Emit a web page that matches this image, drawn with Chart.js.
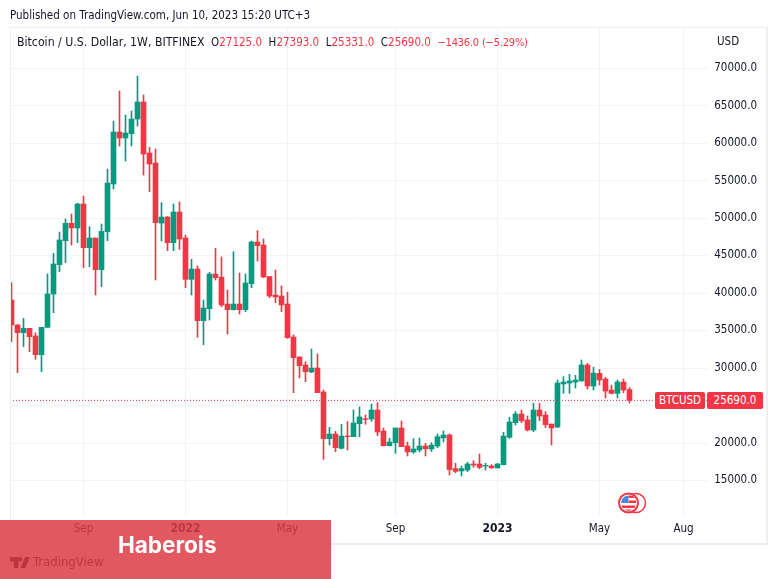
<!DOCTYPE html>
<html>
<head>
<meta charset="utf-8">
<script src="https://cdn.jsdelivr.net/npm/chart.js@4/dist/chart.umd.min.js"></script>
<style>
  html, body { margin: 0; background: #fff; }
  #wrap { position: relative; width: 777px; height: 579px; overflow: hidden; font-family: "DejaVu Sans Condensed", "DejaVu Sans", sans-serif; color: #131722; }
  canvas { position: absolute; left: 0; top: 0; }
  .txt { position: absolute; white-space: pre; font-size: 11.5px; line-height: 16px; }
  .red { color: #f23645; }
  #frame { position: absolute; left: 10px; top: 27px; width: 755px; height: 515px; border: 1px solid #eeeeee; border-width: 1px 2px 2px 1px; }
  .tag { position: absolute; top: 392px; height: 17px; line-height: 17px; background: #f23645; color: #fff; font-size: 11.5px; text-align: center; border-radius: 2px; }
  #banner { position: absolute; left: 0; top: 520px; width: 331px; height: 59px; background: rgba(221, 59, 68, 0.85); }
  #brand { position: absolute; left: 118px; top: 530px; color: #fff; font: 700 22.5px/30px Inter, sans-serif; }
</style>
</head>
<body>
<div id="wrap">
  <canvas id="chart" width="777" height="579"></canvas>
  <div id="frame"></div>
  <div class="txt" style="left:10px;top:7px">Published on TradingView.com, Jun 10, 2023 15:20 UTC+3</div>
  <div class="txt" style="left:17px;top:34px"><span style="font-size:12.2px">Bitcoin / U.S. Dollar, 1W, BITFINEX</span>  O<span class="red">27125.0</span>  H<span class="red">27393.0</span>  L<span class="red">25331.0</span>  C<span class="red">25690.0</span>  <span class="red" style="font-size:11px;letter-spacing:-0.2px">−1436.0 (−5.29%)</span></div>
  <div class="txt" style="left:717px;top:33px">USD</div>
  <div class="tag" style="left:655px;width:50px">BTCUSD</div>
  <div class="tag" style="left:707px;width:56px">25690.0</div>
  <svg style="position:absolute;left:617px;top:491px" width="31" height="24" viewBox="0 0 31 24">
    <circle cx="19" cy="12" r="9.500" fill="#fff" stroke="#f23645" stroke-width="1.500"/>
    <circle cx="11.500" cy="12" r="9.500" fill="#fff" stroke="#f23645" stroke-width="2"/>
    <path d="M4 12a7.500 7.500 0 0 1 7.500-7.500V12z" fill="#3f8fe0"/>
    <path d="M11.500 4.500h4l2.500 2.500h-6.500zM11.500 9.500h7.500v2.500h-7.500zM4.500 14.500h14l-1 2.500h-12zM7.500 18.500h8l-4 1.500z" fill="#f23645"/>
  </svg>
  <svg style="position:absolute;left:10px;top:557px" width="20" height="11" viewBox="0 0 36 20">
    <path d="M0 0h15v20H7V8H0zM22 4a4 4 0 1 1-8 0 4 4 0 0 1 8 0zM27 0h9l-8 20h-9z" fill="#131722"/>
  </svg>
  <div class="txt" style="left:33px;top:553px;font-size:13px;line-height:18px;color:#131722">TradingView</div>
  <div id="banner"></div>
  <div id="brand">Haberois</div>
</div>
<script>
const opens = [
  39070,35740,34710,35290,34270,31780,35420,39870,43780,46980,
  49290,48670,51870,46050,47330,43110,48180,54530,61470,60670,
  61250,63200,65470,58670,57330,49330,50130,46710,50800,47330,
  41820,43200,36310,37910,42530,42130,38530,37780,38530,37780,
  41240,46800,46400,42200,39730,39600,38530,34130,31470,30400,
  29470,30000,26800,20580,21200,19290,20930,20840,22580,23240,
  23200,24400,21600,19640,20040,22000,19600,18800,19070,19600,
  19200,19600,20670,21070,16580,16270,16400,17200,17200,16930,
  16930,16670,17110,20760,22710,23870,23070,21730,24400,23730,
  22530,22130,27870,28000,28130,28270,30400,27600,29290,28530,
  27070,26620,28130,27125
];
const closes = [
  35740,34710,35290,34180,31780,35420,39870,43870,47070,49290,
  48670,51870,46050,47330,43110,48220,54670,61470,60670,61330,
  63200,65470,58530,57200,49380,50130,46710,50800,47200,41820,
  43200,36310,38000,42530,42050,38400,37780,38530,37780,41330,
  46800,46310,42130,39600,39470,38400,34050,31380,30310,29510,
  30000,26710,20580,21200,19380,20930,20840,22670,23470,23150,
  24400,21470,19640,20130,22000,19510,18800,19200,19600,19240,
  19730,20840,21070,16450,16220,16580,17200,17070,16760,17020,
  16710,17200,20930,22800,23870,22980,21730,24400,23600,22450,
  22000,28000,28130,28270,28400,30400,27600,29330,28400,26930,
  26620,28130,27070,25690
];
const highs = [
  41380,35800,36620,35290,34710,35420,42540,45290,48130,49870,
  50530,51960,52930,48850,47330,49200,56530,62930,66930,63730,
  64270,68930,66400,59420,59200,52050,50200,51870,52130,47730,
  44490,43600,39070,42760,45960,44800,40400,45510,42670,42530,
  46930,48310,47200,42200,43070,40930,40090,34400,31510,30840,
  32530,31870,27070,22090,21560,22490,22850,24400,24800,23730,
  25200,25380,22000,20620,22000,22930,20130,20580,20670,19960,
  20040,21200,21600,21200,17290,16930,17420,17640,18530,17290,
  17110,17290,21420,23420,24180,24400,23600,25290,25290,24180,
  22530,28400,28840,29160,29020,31070,30620,30090,29820,28760,
  27730,28400,28530,27393
];
const lows = [
  33510,29380,32850,32180,31160,29520,35420,37380,42850,44050,
  46400,46710,43380,43520,39740,40850,46980,53870,59600,57600,
  59600,62270,55730,53510,41730,46930,45640,45640,45820,40710,
  39730,34090,33110,36400,41730,38180,34530,37730,37200,37510,
  40710,44270,42050,39380,38710,37510,33960,26710,28670,28180,
  29380,26710,17820,19730,18850,19200,19070,20840,20840,22490,
  22890,20980,19600,19600,18620,19510,18270,18620,18800,18270,
  18850,19380,20130,15730,16050,15600,16180,16760,16580,16400,
  16580,16670,17070,20620,22400,22710,21600,21510,22980,22050,
  19730,22050,26620,26620,27330,28270,27200,27070,27730,26000,
  26530,26000,26710,25331
];
const xTickWeeks = [12, 29, 46, 64, 81, 98, 112];
const xTickNames = ['Sep', '2022', 'May', 'Sep', '2023', 'May', 'Aug'];
const yTicks = [70000, 65000, 60000, 55000, 50000, 45000, 40000, 35000, 30000, 25000, 20000, 15000];

const UP = '#089981', DOWN = '#f23645', GRID = '#f2f3f5';
const FONT = '"DejaVu Sans Condensed", "DejaVu Sans"';
const xMin = -0.25, xMax = 115.92;

const colors = opens.map((o, i) => (closes[i] >= o ? UP : DOWN));
const last = closes[closes.length - 1];

new Chart(document.getElementById('chart'), {
  type: 'bar',
  data: {
    datasets: [
      {
        data: opens.map((o, i) => ({ x: i, y: [lows[i], highs[i]] })),
        backgroundColor: colors, barThickness: 1, grouped: false, order: 2
      },
      {
        data: opens.map((o, i) => ({ x: i, y: [o, closes[i]] })),
        backgroundColor: colors, barThickness: 5, grouped: false, order: 1
      },
      {
        type: 'line',
        data: [{ x: xMin, y: last }, { x: xMax, y: last }],
        borderColor: DOWN, borderWidth: 1, borderDash: [1, 2], pointRadius: 0, order: 0
      }
    ]
  },
  options: {
    responsive: false,
    animation: false,
    layout: { padding: { left: 10, top: 27, right: 20, bottom: 36 } },
    plugins: { legend: { display: false }, tooltip: { enabled: false } },
    scales: {
      x: {
        type: 'linear',
        offset: false,
        min: xMin,
        max: xMax,
        grid: { color: GRID, offset: false, drawTicks: false },
        border: { display: false },
        afterBuildTicks: s => { s.ticks = xTickWeeks.map(v => ({ value: v })); },
        afterFit: s => { s.height = 28; },
        ticks: {
          autoSkip: false,
          maxRotation: 0,
          padding: 7,
          color: '#131722',
          font: c => ({ family: FONT, size: c.index === 1 || c.index === 4 ? 12 : 11.5, weight: c.index === 1 || c.index === 4 ? 'bold' : 'normal' }),
          callback: (v, i) => xTickNames[i]
        }
      },
      y: {
        position: 'right',
        min: 10400,
        max: 75470,
        grid: { color: GRID, drawTicks: false },
        border: { display: false },
        afterBuildTicks: s => { s.ticks = yTicks.map(v => ({ value: v })); },
        afterFit: s => { s.width = 50; },
        ticks: {
          padding: 8,
          crossAlign: 'far',
          color: '#131722',
          font: { family: FONT, size: 11.5 },
          callback: v => v.toFixed(1)
        }
      }
    }
  }
});
</script>
</body>
</html>
